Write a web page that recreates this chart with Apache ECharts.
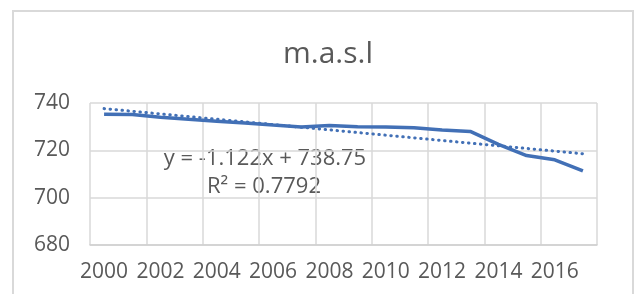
<!DOCTYPE html>
<html>
<head>
<meta charset="utf-8">
<script src="https://cdn.jsdelivr.net/npm/echarts@6/dist/echarts.min.js"></script>
<style>
html,body{margin:0;padding:0;background:#fff;}
#chart{width:637px;height:294px;}
</style>
</head>
<body>
<div id="chart"></div>
<script>
const years = ['2000','2001','2002','2003','2004','2005','2006','2007','2008','2009','2010','2011','2012','2013','2014','2015','2016','2017'];
const masl = [735.2, 735.1, 734.0, 733.1, 732.3, 731.6, 730.7, 729.9, 730.5, 730.0, 729.9, 729.5, 728.6, 728.0, 722.5, 717.8, 716.0, 711.3];
const trendSlope = -1.122;
const trendIntercept = 738.75;
const yTicks = [680, 700, 720, 740];
const titleText = 'm.a.s.l';
const eqText = 'y = -1.122x + 738.75';
const r2Text = 'R\u00b2 = 0.7792';

const trendStart = trendSlope * 1 + trendIntercept;
const trendEnd = trendSlope * years.length + trendIntercept;

const chart = echarts.init(document.getElementById('chart'), null, {renderer: 'canvas'});
const font = '"Open Sans", "Noto Sans", sans-serif';
const option = {
  backgroundColor: '#fff',
  animation: false,
  title: {
    text: titleText,
    left: 323,
    top: 34,
    textAlign: 'center',
    textStyle: {fontFamily: font, fontSize: 30, fontWeight: 'normal', color: '#595959'}
  },
  grid: {left: 90, right: 40, top: 103, bottom: 49},
  xAxis: {
    type: 'category',
    data: years,
    boundaryGap: true,
    axisLine: {show: true, lineStyle: {color: '#d0d0d0', width: 1.5}},
    axisTick: {show: false},
    splitLine: {show: true, lineStyle: {color: '#d9d9d9', width: 1.5}},
    axisLabel: {interval: 1, margin: 17, fontFamily: font, fontSize: 21, color: '#595959'}
  },
  yAxis: {
    type: 'value',
    min: yTicks[0],
    max: yTicks[yTicks.length - 1],
    interval: 20,
    axisLine: {show: false},
    axisTick: {show: false},
    splitLine: {show: true, lineStyle: {color: '#d9d9d9', width: 1.5}},
    axisLabel: {margin: 20, fontFamily: font, fontSize: 21, color: '#595959'}
  },
  series: [{
    type: 'line',
    data: masl,
    symbol: 'none',
    lineStyle: {color: '#4270b6', width: 3.5},
    markLine: {
      silent: true,
      symbol: 'none',
      label: {show: false},
      lineStyle: {color: '#4270b6', width: 3, type: [0.5, 5.5], cap: 'round'},
      data: [[{coord: [years[0], trendStart]}, {coord: [years[years.length - 1], trendEnd]}]]
    }
  }],
  graphic: [
    {type: 'rect', shape: {x: 13, y: 11, width: 620, height: 300}, style: {fill: 'none', stroke: '#d9d9d9', lineWidth: 2}, silent: true},
    {type: 'text', x: 265, y: 159, style: {text: eqText, font: '22px ' + font, fill: '#595959', textAlign: 'center', textVerticalAlign: 'middle'}},
    {type: 'text', x: 264, y: 187, style: {text: r2Text, font: '22px ' + font, fill: '#595959', textAlign: 'center', textVerticalAlign: 'middle'}}
  ]
};
chart.setOption(option);
</script>
</body>
</html>
